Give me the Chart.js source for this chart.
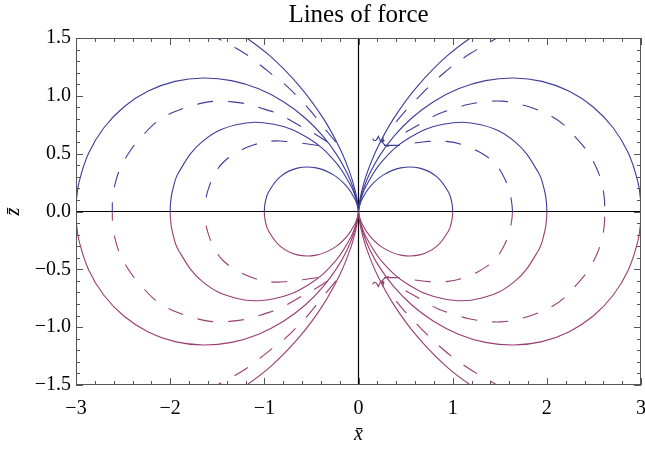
<!DOCTYPE html>
<html>
<head>
<meta charset="utf-8">
<script src="https://cdn.jsdelivr.net/npm/chart.js@4.4.0/dist/chart.umd.min.js"></script>
<style>
html, body { margin: 0; padding: 0; background: #fff; }
#wrap { width: 645px; height: 449px; }
</style>
</head>
<body>
<div id="wrap"><canvas id="myChart"></canvas></div>
<script>
// Solid lines of force, upper-right quadrant (x, z).
// The other three quadrants are mirror images.
var line1 = [[0,0],[0.0007,0.0076],[0.0052,0.0297],[0.0400,0.1099],[0.1250,0.2165],[0.2656,0.3165],
  [0.4495,0.3772],[0.6495,0.3750],[0.8298,0.3020],[0.9551,0.1684],[0.9886,0.0865],[0.9982,0.0349],[1,0]];
var line2 = [[0,0],[0.0013,0.0151],[0.0105,0.0594],[0.0347,0.1294],[0.0800,0.2198],[0.2500,0.4330],
  [0.5312,0.6330],[0.8991,0.7544],[1.2990,0.7500],[1.6595,0.6040],[1.9102,0.3368],[1.9773,0.1730],
  [1.9963,0.0697],[2,0]];
var line3 = [[0,0],[0.0020,0.0227],[0.0157,0.0891],[0.0520,0.1941],[0.1200,0.3298],[0.2265,0.4856],
  [0.3750,0.6495],[0.5661,0.8085],[0.7968,0.9495],[1.0607,1.0607],[1.3486,1.1316],[1.6490,1.1546],
  [1.9486,1.1250],[2.2333,1.0414],[2.4893,0.9060],[2.7037,0.7244],[2.8653,0.5052],[2.9659,0.2595],
  [2.9945,0.1046],[3,0]];
var line5 = [[0,0],[0.0033,0.0378],[0.0262,0.1485],[0.0867,0.3235],[0.2000,0.5496],[0.3774,0.8094],
  [0.6250,1.0825],[0.9435,1.3475],[1.3279,1.5826]];

// Dashed lines, upper half, right and left lobes (they stop short of the origin)
var dashInnerR = [[0.27,0.572],[0.45,0.574],[0.60,0.592],[0.75,0.606],[0.93,0.606],[1.11,0.577],
  [1.27,0.52],[1.43,0.43],[1.53,0.32],[1.60,0.18],[1.628,0.07],[1.635,0]];
var dashInnerL = [[-0.43,0.571],[-0.63,0.594],[-0.80,0.608],[-0.93,0.608],[-1.11,0.577],[-1.27,0.52],
  [-1.43,0.43],[-1.53,0.32],[-1.60,0.18],[-1.628,0.07],[-1.635,0]];
var dashMidR = [[0.50,0.686],[0.66,0.758],[0.84,0.84],[1.00,0.885],[1.16,0.925],[1.34,0.948],
  [1.52,0.954],[1.70,0.93],[1.87,0.888],[2.05,0.824],[2.19,0.743],[2.31,0.637],[2.42,0.53],
  [2.52,0.39],[2.577,0.262],[2.61,0.118],[2.615,0]];
var dashMidL = [[-0.326,0.60],[-0.467,0.672],[-0.66,0.758],[-0.84,0.84],[-1.00,0.885],[-1.16,0.925],
  [-1.34,0.948],[-1.52,0.954],[-1.70,0.93],[-1.87,0.888],[-2.05,0.824],[-2.19,0.743],[-2.31,0.637],
  [-2.42,0.53],[-2.52,0.39],[-2.577,0.262],[-2.61,0.118],[-2.615,0]];
var dashOuterR = [[0.40,0.775],[0.52,0.89],[0.645,0.995],[0.775,1.10],[0.916,1.204],[1.05,1.29],
  [1.20,1.372],[1.37,1.452],[1.47,1.50],[1.56,1.545]];
var dashOuterL = [[-0.24,0.60],[-0.40,0.758],[-0.52,0.88],[-0.645,0.99],[-0.77,1.09],[-0.91,1.18],
  [-1.05,1.27],[-1.19,1.357],[-1.34,1.43],[-1.50,1.50],[-1.58,1.54]];

// little curl where the dashed lines start on the right
var curl = [[0.15,0.63],[0.165,0.612],[0.185,0.615],[0.20,0.632],[0.21,0.65],[0.22,0.632],
  [0.235,0.605],[0.255,0.598],[0.27,0.612],[0.262,0.63],[0.248,0.615],[0.26,0.59],[0.285,0.57],[0.32,0.562]];

var xTicks = [-3, -2, -1, 0, 1, 2, 3];
var xTickLabels = ['\u22123', '\u22122', '\u22121', '0', '1', '2', '3'];
var yTicks = [-1.5, -1, -0.5, 0, 0.5, 1, 1.5];
var yTickLabels = ['\u22121.5', '\u22121.0', '\u22120.5', '0.0', '0.5', '1.0', '1.5'];

var blue = '#3d3d99';
var purple = '#993d71';
var serif = '"Liberation Serif", "Times New Roman", serif';

var datasets = [];
function addLine(arr, dashed, mirrorX, tension) {
  [1, -1].forEach(function(sz) {
    (mirrorX ? [1, -1] : [1]).forEach(function(sx) {
      datasets.push({
        data: arr.map(function(p) { return {x: p[0] * sx, y: p[1] * sz}; }),
        showLine: true,
        borderColor: sz > 0 ? blue : purple,
        borderWidth: 1.1,
        borderDash: dashed ? [16, 15] : [],
        pointRadius: 0,
        tension: tension,
        fill: false
      });
    });
  });
}
addLine(line1, false, true, 0.4);
addLine(line2, false, true, 0.4);
addLine(line3, false, true, 0.4);
addLine(line5, false, true, 0.4);
addLine(dashInnerR, true, false, 0.4);
addLine(dashInnerL, true, false, 0.4);
addLine(dashMidR, true, false, 0.4);
addLine(dashMidL, true, false, 0.4);
addLine(dashOuterR, true, false, 0.4);
addLine(dashOuterL, true, false, 0.4);
addLine(curl, false, false, 0);

// Frame, axes through the origin, inside ticks, title
var framePlugin = {
  id: 'frame',
  beforeDatasetsDraw: function(chart) {
    var ctx = chart.ctx, a = chart.chartArea;
    var x0 = chart.scales.x.getPixelForValue(0);
    var y0 = chart.scales.y.getPixelForValue(0);
    ctx.save();
    ctx.strokeStyle = '#000';
    ctx.lineWidth = 1.2;
    ctx.beginPath();
    ctx.moveTo(a.left, y0); ctx.lineTo(a.right, y0);
    ctx.moveTo(x0, a.top); ctx.lineTo(x0, a.bottom);
    ctx.stroke();
    ctx.restore();
  },
  afterDatasetsDraw: function(chart) {
    var ctx = chart.ctx, a = chart.chartArea;
    var xs = chart.scales.x, ys = chart.scales.y;
    ctx.save();
    ctx.strokeStyle = '#555';
    ctx.lineWidth = 1;
    ctx.strokeRect(a.left + 0.5, a.top + 0.5, a.right - a.left - 1, a.bottom - a.top - 1);
    ctx.beginPath();
    var i, v, p, len;
    for (i = 0; i <= 30; i++) {
      v = -3 + i * 0.2;
      p = Math.round(xs.getPixelForValue(v)) + 0.5;
      len = i % 5 === 0 ? 7 : 4;
      ctx.moveTo(p, a.bottom); ctx.lineTo(p, a.bottom - len);
      ctx.moveTo(p, a.top); ctx.lineTo(p, a.top + len);
    }
    for (i = 0; i <= 30; i++) {
      v = -1.5 + i * 0.1;
      p = Math.round(ys.getPixelForValue(v)) + 0.5;
      len = i % 5 === 0 ? 7 : 4;
      ctx.moveTo(a.left, p); ctx.lineTo(a.left + len, p);
      ctx.moveTo(a.right, p); ctx.lineTo(a.right - len, p);
    }
    ctx.stroke();
    ctx.fillStyle = '#000';
    ctx.font = '25px ' + serif;
    ctx.textAlign = 'center';
    ctx.textBaseline = 'alphabetic';
    ctx.fillText('Lines of force', (a.left + a.right) / 2, 22);
    ctx.restore();
  }
};

var ctx = document.getElementById('myChart').getContext('2d');
var chart = new Chart(ctx, {
  type: 'scatter',
  data: { datasets: datasets },
  options: {
    responsive: true,
    maintainAspectRatio: false,
    animation: false,
    layout: { padding: { top: 38, right: 4, left: 0, bottom: 0 } },
    plugins: {
      legend: { display: false },
      tooltip: { enabled: false },
      title: { display: false }
    },
    scales: {
      x: {
        type: 'linear',
        min: -3, max: 3,
        afterBuildTicks: function(scale) {
          scale.ticks = xTicks.map(function(v) { return {value: v}; });
        },
        afterFit: function(scale) {
          scale.height = 64;
          scale.paddingLeft = 0;
          scale.paddingRight = 0;
        },
        grid: { display: false, drawTicks: false },
        border: { display: false },
        ticks: {
          padding: 12,
          color: '#000',
          maxRotation: 0,
          font: { family: serif, size: 20 },
          callback: function(v, i) { return xTickLabels[i]; }
        },
        title: {
          display: true,
          text: 'x\u0304',
          color: '#000',
          font: { family: serif, size: 20, style: 'italic' },
          padding: { top: 0, bottom: 2 }
        }
      },
      y: {
        type: 'linear',
        min: -1.5, max: 1.5,
        afterBuildTicks: function(scale) {
          scale.ticks = yTicks.map(function(v) { return {value: v}; });
        },
        afterFit: function(scale) {
          scale.width = 76;
          scale.paddingTop = 0;
          scale.paddingBottom = 0;
        },
        grid: { display: false, drawTicks: false },
        border: { display: false },
        ticks: {
          padding: 5,
          color: '#000',
          font: { family: serif, size: 20 },
          callback: function(v, i) { return yTickLabels[i]; }
        },
        title: {
          display: true,
          text: 'z\u0304',
          color: '#000',
          font: { family: serif, size: 20, style: 'italic' },
          padding: { top: 2, bottom: 0 }
        }
      }
    }
  },
  plugins: [framePlugin]
});
</script>
</body>
</html>
